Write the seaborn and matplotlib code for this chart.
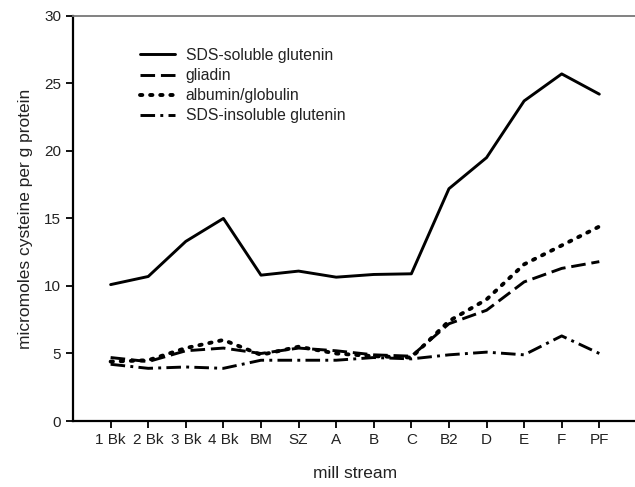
import pandas as pd
import matplotlib
matplotlib.use('Agg')
import matplotlib.pyplot as plt
import seaborn as sns

streams = ['1 Bk', '2 Bk', '3 Bk', '4 Bk', 'BM', 'SZ', 'A', 'B', 'C', 'B2', 'D', 'E', 'F', 'PF']
sds_soluble = [10.1, 10.7, 13.3, 15.0, 10.8, 11.1, 10.65, 10.85, 10.9, 17.2, 19.5, 23.7, 25.7, 24.2]
gliadin = [4.7, 4.4, 5.2, 5.4, 5.0, 5.4, 5.2, 4.9, 4.8, 7.2, 8.2, 10.3, 11.3, 11.8]
albumin = [4.4, 4.5, 5.4, 6.0, 4.9, 5.5, 5.0, 4.8, 4.7, 7.4, 9.0, 11.6, 13.0, 14.4]
sds_insoluble = [4.2, 3.9, 4.0, 3.9, 4.5, 4.5, 4.5, 4.7, 4.6, 4.9, 5.1, 4.9, 6.3, 5.0]

series = {
    'SDS-soluble glutenin': sds_soluble,
    'gliadin': gliadin,
    'albumin/globulin': albumin,
    'SDS-insoluble glutenin': sds_insoluble,
}
styles = {
    'SDS-soluble glutenin': '-',
    'gliadin': (0, (5, 2)),
    'albumin/globulin': (0, (0.6, 2.0)),
    'SDS-insoluble glutenin': (0, (5, 1.8, 1.0, 1.8)),
}

rows = []
for name, vals in series.items():
    for i, v in enumerate(vals):
        rows.append({'pos': i + 1, 'stream': streams[i], 'value': v, 'protein': name})
df = pd.DataFrame(rows)

sns.set_style('ticks')
plt.rcParams['font.family'] = ['Liberation Sans', 'DejaVu Sans']

fig = plt.figure(figsize=(6.35, 4.87), dpi=100)
ax = fig.add_axes([0.115, 0.1355, 0.888, 0.832])

for name in series:
    sub = df[df['protein'] == name]
    dotted = name == 'albumin/globulin'
    sns.lineplot(data=sub, x='pos', y='value', ax=ax, color='black',
                 linewidth=2.8 if dotted else 2.1, label=name,
                 dash_capstyle='round' if dotted else 'butt')
    ax.lines[-1].set_linestyle(styles[name])

ax.set_xlim(0, 15)
ax.set_ylim(0, 30)
ax.set_xticks(range(1, 15))
ax.set_xticklabels(streams)
ax.set_yticks(range(0, 31, 5))
ax.tick_params(axis='both', labelsize=11, direction='out', length=5, width=1.3, colors='black', labelcolor='#222222')
ax.set_xlabel('mill stream', fontsize=12.5, labelpad=14, color='#222222')
ax.set_ylabel('micromoles cysteine per g protein', fontsize=12.5, labelpad=8, color='#222222')

for s in ['left', 'bottom']:
    ax.spines[s].set_linewidth(1.6)
    ax.spines[s].set_color('black')
ax.spines['top'].set_color('#777777')
ax.spines['top'].set_linewidth(1.3)
ax.spines['right'].set_visible(False)

leg = ax.legend(loc='upper left', bbox_to_anchor=(0.105, 0.94), frameon=False, borderpad=0,
                fontsize=11.3, handlelength=2.2, handletextpad=0.7, labelspacing=0.32)
for t in leg.get_texts():
    t.set_color('#222222')

fig.savefig('out.png', dpi=100)
